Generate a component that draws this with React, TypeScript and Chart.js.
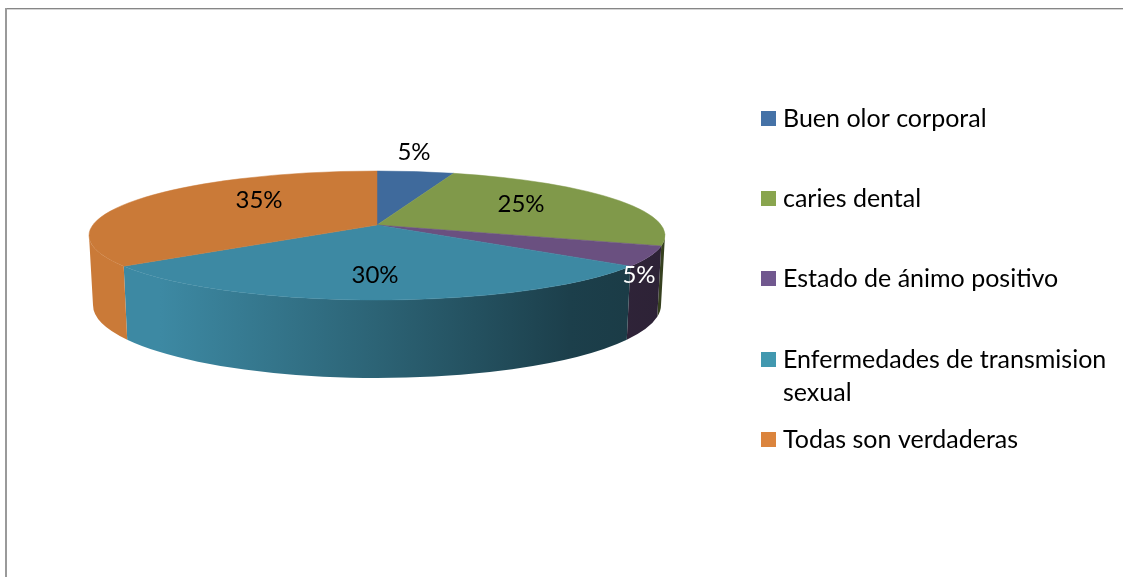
import React, { useEffect, useRef } from "react";
import { Chart, registerables } from "chart.js";

Chart.register(...registerables);

const categories = [
  "Buen olor corporal",
  "caries dental",
  "Estado de ánimo positivo",
  "Enfermedades de transmision sexual",
  "Todas son verdaderas",
];
const percentages = [5, 25, 5, 30, 35];
const sliceColors = ["#3F6A9C", "#80994A", "#6A5080", "#3D89A3", "#CA7A38"];
const legendColors = ["#4572A7", "#89A54E", "#71588F", "#4198AF", "#DB843D"];
const labelColors = ["#000000", "#000000", "#FFFFFF", "#000000", "#000000"];

const WIDTH = 1123;
const HEIGHT = 577;
const FONT = "Lato, 'Open Sans', sans-serif";
const LEGEND_FONT_SIZE = 25;
const LABEL_FONT_SIZE = 24;

// Pie drawing geometry
const top = { cx: 377, cy: 235.5, rx: 288, ry: 64.5 };
const bottom = { cx: 377, cy: 305, rx: 284, ry: 73 };
const apex = { x: 377, y: 225 };
const PERSPECTIVE = 0.855;
// Side shading across the pie, as [x, factor]
const shadeStops: [number, number][] = [
  [90, 1],
  [160, 1],
  [377, 0.72],
  [570, 0.46],
  [665, 0.42],
];
// Label anchors relative to the apex
const labelOffsets: [number, number][] = [
  [37, -73],
  [144, -21],
  [262, 50],
  [-2, 50],
  [-118, -25],
];
// Legend layout
const legendX = 761;
const legendTextX = 783;
const legendSwatch = 15;
const legendBaselines = [127, 207, 287, 368, 448];
const legendLineHeight = 33;
const legendMaxWidth = 330;

function shade(hex: string, f: number) {
  const n = parseInt(hex.slice(1), 16);
  const r = Math.round(((n >> 16) & 255) * f);
  const g = Math.round(((n >> 8) & 255) * f);
  const b = Math.round((n & 255) * f);
  return `rgb(${r},${g},${b})`;
}

// Maps a pie angle (0 = 12 o'clock, clockwise) to the ellipse parameter, with perspective.
function rimAngle(theta: number) {
  return 2 * Math.atan2(PERSPECTIVE * Math.sin(theta / 2), Math.cos(theta / 2));
}

function wrap(ctx: CanvasRenderingContext2D, text: string, max: number) {
  const lines: string[] = [];
  let line = "";
  for (const word of text.split(" ")) {
    const next = line ? line + " " + word : word;
    if (ctx.measureText(next).width > max && line) {
      lines.push(line);
      line = word;
    } else {
      line = next;
    }
  }
  lines.push(line);
  return lines;
}

const pie3d = {
  id: "pie3d",
  beforeDraw(chart: any) {
    const { ctx } = chart;
    ctx.save();
    ctx.fillStyle = "#FFFFFF";
    ctx.fillRect(0, 0, WIDTH, HEIGHT);
    ctx.fillStyle = "#D4D4D4";
    ctx.fillRect(6, 9, WIDTH - 6, 1);
    ctx.fillStyle = "#868686";
    ctx.fillRect(5, 8, WIDTH - 5, 1);
    ctx.fillStyle = "#9A9A9A";
    ctx.fillRect(5, 8, 2, HEIGHT - 8);
    ctx.restore();
  },
  beforeDatasetsDraw(chart: any) {
    const { ctx } = chart;
    const arcs = chart.getDatasetMeta(0).data;
    const toCanvas = (t: number) => t - Math.PI / 2;
    const angles = arcs.map((a: any) => [
      rimAngle(a.startAngle + Math.PI / 2),
      rimAngle(a.endAngle + Math.PI / 2),
    ]);

    ctx.save();
    // Sides: only the front half of the rim is visible
    arcs.forEach((_: any, i: number) => {
      const t1 = Math.max(angles[i][0], Math.PI / 2);
      const t2 = Math.min(angles[i][1], (3 * Math.PI) / 2);
      if (t2 <= t1) return;
      const g = ctx.createLinearGradient(90, 0, 665, 0);
      shadeStops.forEach(([x, f]) =>
        g.addColorStop((x - 90) / (665 - 90), shade(sliceColors[i], f))
      );
      ctx.beginPath();
      ctx.ellipse(top.cx, top.cy, top.rx, top.ry, 0, toCanvas(t1), toCanvas(t2));
      ctx.ellipse(bottom.cx, bottom.cy, bottom.rx, bottom.ry, 0, toCanvas(t2), toCanvas(t1), true);
      ctx.closePath();
      ctx.fillStyle = g;
      ctx.fill();
    });
    // Top face
    arcs.forEach((_: any, i: number) => {
      ctx.beginPath();
      ctx.moveTo(apex.x, apex.y);
      ctx.ellipse(top.cx, top.cy, top.rx, top.ry, 0, toCanvas(angles[i][0]), toCanvas(angles[i][1]));
      ctx.closePath();
      ctx.fillStyle = sliceColors[i];
      ctx.strokeStyle = sliceColors[i];
      ctx.lineWidth = 0.5;
      ctx.fill();
      ctx.stroke();
    });
    // Data labels
    ctx.font = `${LABEL_FONT_SIZE}px ${FONT}`;
    ctx.textAlign = "center";
    ctx.textBaseline = "middle";
    percentages.forEach((p, i) => {
      ctx.fillStyle = labelColors[i];
      ctx.fillText(`${p}%`, apex.x + labelOffsets[i][0], apex.y + labelOffsets[i][1]);
    });
    // Legend
    ctx.font = `${LEGEND_FONT_SIZE}px ${FONT}`;
    ctx.textAlign = "left";
    ctx.textBaseline = "alphabetic";
    categories.forEach((name, i) => {
      ctx.fillStyle = legendColors[i];
      ctx.fillRect(legendX, legendBaselines[i] - 16, legendSwatch, legendSwatch);
      ctx.fillStyle = "#000000";
      wrap(ctx, name, legendMaxWidth).forEach((line, j) => {
        ctx.fillText(line, legendTextX, legendBaselines[i] + j * legendLineHeight);
      });
    });
    ctx.restore();
    return false;
  },
};

export default function App() {
  const ref = useRef<HTMLCanvasElement>(null);
  useEffect(() => {
    document.body.style.margin = "0";
    const chart = new Chart(ref.current as HTMLCanvasElement, {
      type: "pie",
      data: {
        labels: categories,
        datasets: [{ data: percentages, backgroundColor: sliceColors, borderWidth: 0 }],
      },
      options: {
        responsive: false,
        animation: false,
        plugins: { legend: { display: false }, tooltip: { enabled: false } },
      },
      plugins: [pie3d],
    } as any);
    return () => chart.destroy();
  }, []);
  return <canvas ref={ref} width={WIDTH} height={HEIGHT} style={{ display: "block" }} />;
}
